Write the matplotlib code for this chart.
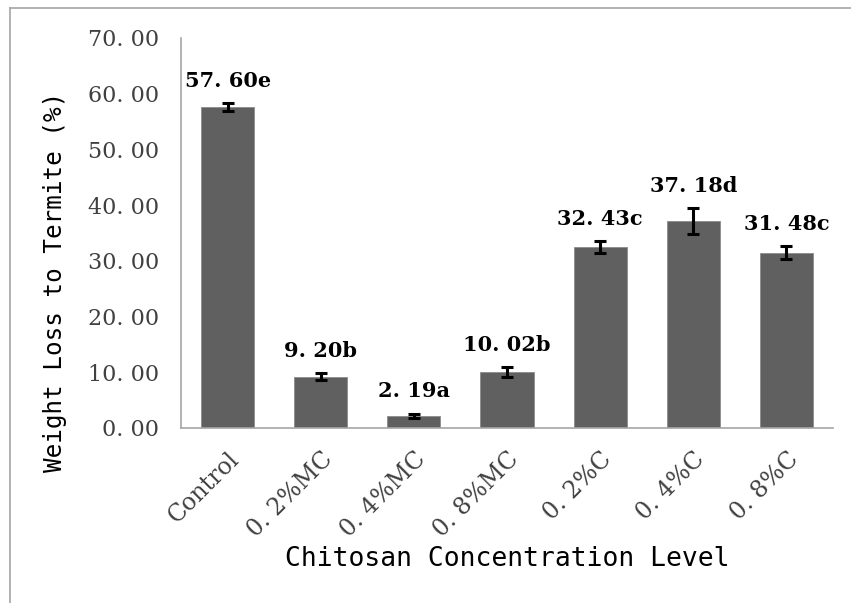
import matplotlib.pyplot as plt
from matplotlib.lines import Line2D

groups = ["Control", "0. 2%MC", "0. 4%MC", "0. 8%MC", "0. 2%C", "0. 4%C", "0. 8%C"]
weight_loss = [57.60, 9.20, 2.19, 10.02, 32.43, 37.18, 31.48]
errors = [0.7, 0.6, 0.35, 0.9, 1.1, 2.3, 1.1]
letters = ["e", "b", "a", "b", "c", "d", "c"]
y_ticks = [0, 10, 20, 30, 40, 50, 60, 70]

tick_font = "DejaVu Serif"
mono_font = "DejaVu Sans Mono"

fig = plt.figure(figsize=(8.51, 6.03), dpi=100)
ax = fig.add_axes([181 / 851, 1 - 428 / 603, (833 - 181) / 851, (428 - 38) / 603])

x = list(range(len(groups)))
ax.bar(x, weight_loss, width=0.57, color="#606060", edgecolor="#8c8c8c", linewidth=0.6, zorder=2)
ax.errorbar(x, weight_loss, yerr=errors, fmt="none", ecolor="black",
            elinewidth=2.2, capsize=4, capthick=2.2, zorder=3)

for xi, v, e, l in zip(x, weight_loss, errors, letters):
    ax.annotate(f"{v:.2f}".replace(".", ". ") + l, (xi, v + e), xytext=(0, 9),
                textcoords="offset points", ha="center", va="bottom",
                fontsize=15, family=tick_font, fontweight="bold")

ax.set_xlim(-0.5, len(groups) - 0.5)
ax.set_ylim(0, 70)
ax.set_yticks(y_ticks)
ax.set_yticklabels([f"{t:.2f}".replace(".", ". ") for t in y_ticks],
                   fontsize=16, family=tick_font, color="#404040")
ax.set_xticks(x)
ax.set_xticklabels(groups, rotation=45, ha="right", rotation_mode="anchor",
                   fontsize=17, family=tick_font, color="#404040")
ax.tick_params(axis="both", length=0)
ax.tick_params(axis="y", pad=16)
ax.tick_params(axis="x", pad=14)

for s in ["top", "right"]:
    ax.spines[s].set_visible(False)
for s in ["left", "bottom"]:
    ax.spines[s].set_color("#a6a6a6")
    ax.spines[s].set_linewidth(1.2)

ax.set_ylabel("Weight Loss to Termite (%)", fontsize=17.5, family=mono_font, va="center")
ax.yaxis.set_label_coords(-0.193, 0.374)
ax.set_xlabel("Chitosan Concentration Level", fontsize=19, family=mono_font, labelpad=3)

# outer chart frame
fig.add_artist(Line2D([10 / 851, 10 / 851], [1 - 8 / 603, 0], color="#a6a6a6", lw=1.2))
fig.add_artist(Line2D([10 / 851, 1], [1 - 8 / 603, 1 - 8 / 603], color="#a6a6a6", lw=1.2))

fig.savefig("out.png", dpi=100)
